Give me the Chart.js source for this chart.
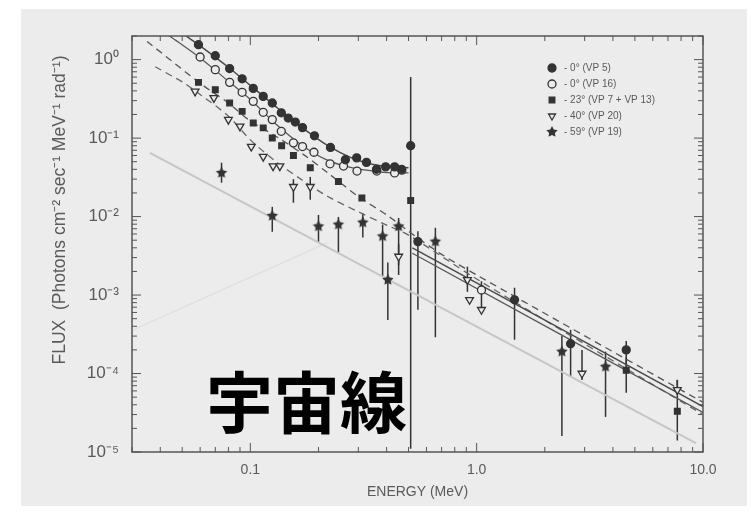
<!DOCTYPE html>
<html>
<head>
<meta charset="utf-8">
<script src="https://cdn.jsdelivr.net/npm/chart.js@4.4.1/dist/chart.umd.min.js"></script>
<style>
  html, body { margin: 0; padding: 0; background: #fff; }
  #wrap { position: relative; width: 751px; height: 524px; overflow: hidden; }
  #paper { position: absolute; left: 21px; top: 9px; width: 726px; height: 497px; background: #ececec; }
  #chart { position: absolute; left: 0; top: 0; }
  #stamp { position: absolute; left: 206px; top: 365px; font: bold 67px "Noto Sans CJK JP"; line-height: 67px; color: #000; white-space: nowrap; }
</style>
</head>
<body>
<div id="wrap">
  <div id="paper"></div>
  <canvas id="chart" width="751" height="524"></canvas>
  <div id="stamp">宇宙線</div>
</div>
<script>
// series names (legend)
const seriesNames = ['- 0° (VP 5)', '- 0° (VP 16)', '- 23° (VP 7 + VP 13)', '- 40° (VP 20)', '- 59° (VP 19)'];

// 0° (VP 5) - filled circles
const vp5E  = [0.059, 0.070, 0.081, 0.092, 0.103, 0.114, 0.125, 0.137, 0.147, 0.158, 0.170, 0.192, 0.226, 0.263, 0.295, 0.326, 0.361, 0.396, 0.434, 0.466, 0.511, 0.55, 1.47, 2.60, 4.58];
const vp5F  = [1.55, 1.12, 0.77, 0.57, 0.43, 0.34, 0.28, 0.21, 0.18, 0.16, 0.136, 0.107, 0.076, 0.053, 0.056, 0.049, 0.040, 0.043, 0.043, 0.040, 0.08, 4.8e-3, 8.7e-4, 2.4e-4, 2.0e-4];
const vp5Lo = [null, null, null, null, null, null, null, null, null, null, null, null, null, null, null, null, null, null, null, null, 1.1e-5, 6.5e-4, 2.7e-4, 9.1e-5, 1.1e-4];
const vp5Hi = [null, null, null, null, null, null, null, null, null, null, null, null, null, null, null, null, null, null, null, null, 0.6, 6.5e-3, 1.24e-3, 3.6e-4, 2.6e-4];

// 0° (VP 16) - open circles
const vp16E  = [0.060, 0.070, 0.081, 0.092, 0.103, 0.114, 0.125, 0.137, 0.155, 0.170, 0.191, 0.225, 0.258, 0.296, 0.362, 0.434, 0.467, 1.05];
const vp16F  = [1.08, 0.745, 0.513, 0.383, 0.294, 0.213, 0.172, 0.122, 0.087, 0.078, 0.066, 0.047, 0.044, 0.038, 0.038, 0.036, 0.039, 1.16e-3];
const vp16Lo = [null, null, null, null, null, null, null, null, null, null, null, null, null, null, null, null, null, 7.0e-4];
const vp16Hi = [null, null, null, null, null, null, null, null, null, null, null, null, null, null, null, null, null, 1.5e-3];

// 23° (VP 7 + VP 13) - filled squares
const vp7E  = [0.059, 0.070, 0.081, 0.092, 0.103, 0.114, 0.125, 0.1375, 0.155, 0.184, 0.245, 0.311, 0.511, 4.58, 7.7];
const vp7F  = [0.513, 0.414, 0.280, 0.219, 0.156, 0.135, 0.100, 0.080, 0.060, 0.042, 0.028, 0.0172, 0.016, 1.1e-4, 3.3e-5];
const vp7Lo = [null, null, null, null, null, null, null, null, null, null, null, null, null, 5.7e-5, 1.4e-5];
const vp7Hi = [null, null, null, null, null, null, null, null, null, null, null, null, null, 1.6e-4, 8.3e-5];

// 40° (VP 20) - open down triangles
const vp20E  = [0.057, 0.069, 0.080, 0.090, 0.101, 0.114, 0.126, 0.135, 0.155, 0.184, 0.452, 0.91, 0.93, 1.05, 2.92, 7.7];
const vp20F  = [0.394, 0.325, 0.172, 0.141, 0.078, 0.058, 0.044, 0.044, 0.024, 0.024, 3.1e-3, 1.56e-3, 8.7e-4, 6.5e-4, 1.0e-4, 6.2e-5];
const vp20Lo = [null, null, null, null, null, null, null, null, 0.015, 0.0164, 1.8e-3, 1.1e-3, null, null, 8.3e-5, 5.5e-5];
const vp20Hi = [null, null, null, null, null, null, null, null, 0.030, 0.032, 4.5e-3, 2.3e-3, null, null, 2.0e-4, 8.3e-5];

// 59° (VP 19) - filled stars
const vp19E  = [0.0746, 0.125, 0.2, 0.245, 0.314, 0.384, 0.405, 0.452, 0.657, 2.38, 3.71];
const vp19F  = [0.036, 0.0102, 0.0075, 0.0079, 0.0084, 0.0056, 0.00156, 0.0075, 4.8e-3, 1.9e-4, 1.22e-4];
const vp19Lo = [0.027, 0.0064, 0.0046, 0.0035, 0.0054, 0.0017, 0.00048, 0.0024, 2.9e-4, 1.6e-5, 2.8e-5];
const vp19Hi = [0.0486, 0.0133, 0.0105, 0.0099, 0.011, 0.0079, 0.0026, 0.0096, 7.2e-3, 3.0e-4, 1.9e-4];

// fitted curves
const fit5E  = [0.052, 0.06, 0.08, 0.1, 0.13, 0.17, 0.22, 0.28, 0.35, 0.42, 0.5];
const fit5F  = [2.0, 1.5, 0.80, 0.47, 0.25, 0.135, 0.080, 0.056, 0.046, 0.043, 0.042];
const fit5bE = [0.52, 10];
const fit5bF = [4.0e-3, 3.8e-5];
const fit16E  = [0.044, 0.06, 0.08, 0.1, 0.13, 0.17, 0.22, 0.28, 0.35, 0.42, 0.5];
const fit16F  = [2.0, 1.05, 0.53, 0.31, 0.15, 0.08, 0.052, 0.042, 0.038, 0.036, 0.036];
const fit16bE = [0.52, 10];
const fit16bF = [3.4e-3, 3.2e-5];
const fit7E = [0.035, 0.06, 0.08, 0.1, 0.13, 0.17, 0.22, 0.3, 0.4, 0.5, 0.7, 1, 10];
const fit7F = [1.7, 0.50, 0.28, 0.165, 0.105, 0.063, 0.036, 0.018, 0.0105, 0.0065, 0.0033, 0.0018, 4.3e-5];
const fit20E = [0.038, 0.05, 0.06, 0.08, 0.1, 0.13, 0.17, 0.22, 0.3, 0.4, 0.5, 1, 10];
const fit20F = [0.81, 0.52, 0.36, 0.19, 0.095, 0.05, 0.029, 0.018, 0.0115, 0.0078, 0.0058, 1.6e-3, 3.0e-5];
const bgLineE = [0.036, 9.3];
const bgLineF = [0.065, 1.3e-5];
const faintLineE = [0.0303, 0.221];
const faintLineF = [3.6e-4, 4.7e-3];

// axis ticks
const xTicks = [0.03, 0.04, 0.05, 0.06, 0.07, 0.08, 0.09, 0.1, 0.2, 0.3, 0.4, 0.5, 0.6, 0.7, 0.8, 0.9, 1, 2, 3, 4, 5, 6, 7, 8, 9, 10];
const xLabelValues = [0.1, 1, 10];
const xLabelText = ['0.1', '1.0', '10.0'];
const yTicks = [1e-5, 2e-5, 3e-5, 4e-5, 5e-5, 6e-5, 7e-5, 8e-5, 9e-5,
                1e-4, 2e-4, 3e-4, 4e-4, 5e-4, 6e-4, 7e-4, 8e-4, 9e-4,
                1e-3, 2e-3, 3e-3, 4e-3, 5e-3, 6e-3, 7e-3, 8e-3, 9e-3,
                1e-2, 2e-2, 3e-2, 4e-2, 5e-2, 6e-2, 7e-2, 8e-2, 9e-2,
                0.1, 0.2, 0.3, 0.4, 0.5, 0.6, 0.7, 0.8, 0.9, 1, 2];
const yLabelValues = [1e-5, 1e-4, 1e-3, 1e-2, 1e-1, 1];
const yLabelText = ['10⁻⁵', '10⁻⁴', '10⁻³', '10⁻²', '10⁻¹', '10⁰'];

const yTitle = 'FLUX  (Photons cm⁻² sec⁻¹ MeV⁻¹ rad⁻¹)';
const xTitle = 'ENERGY (MeV)';

const INK = '#333';
const PAPER = '#ececec';
const LABEL = '#5a5a5a';

// filled star marker
function makeStar(r) {
    const c = document.createElement('canvas');
    c.width = c.height = r * 2 + 2;
    const g = c.getContext('2d');
    g.fillStyle = INK;
    g.beginPath();
    for (let i = 0; i < 10; i++) {
        const a = -Math.PI / 2 + i * Math.PI / 5;
        const rr = i % 2 === 0 ? r : r * 0.5;
        g.lineTo(r + 1 + rr * Math.cos(a), r + 1 + rr * Math.sin(a));
    }
    g.closePath();
    g.fill();
    return c;
}
const starImg = makeStar(6);

function pts(xs, ys) {
    return xs.map((x, i) => ({ x, y: ys[i] }));
}

function series(label, xs, ys, lo, hi, style) {
    return Object.assign({
        label, data: pts(xs, ys), errLow: lo, errHigh: hi, isSeries: true,
        showLine: false, pointRadius: 4, borderColor: INK, backgroundColor: INK, borderWidth: 1.3
    }, style);
}

function curve(xs, ys, style) {
    return Object.assign({
        data: pts(xs, ys), showLine: true, pointRadius: 0, borderColor: '#4a4a4a',
        borderWidth: 1.5, tension: 0.3, fill: false
    }, style);
}

const datasets = [
    series(seriesNames[0], vp5E, vp5F, vp5Lo, vp5Hi, { pointStyle: 'circle' }),
    series(seriesNames[1], vp16E, vp16F, vp16Lo, vp16Hi, { pointStyle: 'circle', backgroundColor: PAPER }),
    series(seriesNames[2], vp7E, vp7F, vp7Lo, vp7Hi, { pointStyle: 'rect', pointRadius: 4 }),
    series(seriesNames[3], vp20E, vp20F, vp20Lo, vp20Hi, { pointStyle: 'triangle', rotation: 180, backgroundColor: PAPER, pointRadius: 4.5 }),
    series(seriesNames[4], vp19E, vp19F, vp19Lo, vp19Hi, { pointStyle: starImg }),
    curve(fit5E, fit5F, {}),
    curve(fit5bE, fit5bF, {}),
    curve(fit16E, fit16F, { borderColor: '#555', borderWidth: 1.2 }),
    curve(fit16bE, fit16bF, { borderColor: '#555', borderWidth: 1.2 }),
    curve(fit7E, fit7F, { borderDash: [7, 5], borderColor: '#555', borderWidth: 1.3 }),
    curve(fit20E, fit20F, { borderDash: [7, 5], borderColor: '#666', borderWidth: 1.3 }),
    curve(bgLineE, bgLineF, { borderColor: '#c6c6c6', borderWidth: 2, tension: 0 }),
    curve(faintLineE, faintLineF, { borderColor: '#e0e0e0', borderWidth: 1.5, tension: 0 })
];

// error bars from each series' low/high arrays
const errorBars = {
    id: 'errorBars',
    beforeDatasetsDraw(chart) {
        const { ctx, scales: { x, y } } = chart;
        ctx.save();
        ctx.strokeStyle = INK;
        ctx.lineWidth = 1.5;
        chart.data.datasets.forEach(ds => {
            if (!ds.errLow) return;
            ds.data.forEach((p, i) => {
                const lo = ds.errLow[i], hi = ds.errHigh[i];
                if (lo == null) return;
                const px = x.getPixelForValue(p.x);
                ctx.beginPath();
                ctx.moveTo(px, y.getPixelForValue(hi));
                ctx.lineTo(px, y.getPixelForValue(lo));
                ctx.stroke();
            });
        });
        ctx.restore();
    }
};

// frame with inward ticks on all four sides, y title and legend
const frame = {
    id: 'frame',
    beforeDatasetsDraw(chart) {
        const { ctx, chartArea: { left, right, top, bottom }, scales: { x, y } } = chart;
        ctx.save();
        ctx.strokeStyle = '#555';
        ctx.lineWidth = 1.5;
        ctx.strokeRect(left, top, right - left, bottom - top);
        ctx.lineWidth = 1;
        x.ticks.forEach(t => {
            const px = x.getPixelForValue(t.value);
            const len = xLabelValues.includes(t.value) ? 9 : 5;
            ctx.beginPath();
            ctx.moveTo(px, bottom); ctx.lineTo(px, bottom - len);
            ctx.moveTo(px, top); ctx.lineTo(px, top + len);
            ctx.stroke();
        });
        y.ticks.forEach(t => {
            const py = y.getPixelForValue(t.value);
            const len = yLabelValues.includes(t.value) ? 9 : 5;
            ctx.beginPath();
            ctx.moveTo(left, py); ctx.lineTo(left + len, py);
            ctx.moveTo(right, py); ctx.lineTo(right - len, py);
            ctx.stroke();
        });
        ctx.restore();
    },
    afterDraw(chart) {
        const { ctx } = chart;
        // y axis title
        ctx.save();
        ctx.fillStyle = LABEL;
        ctx.font = '17.5px "Liberation Sans", Arial, sans-serif';
        ctx.translate(60, 210);
        ctx.rotate(-Math.PI / 2);
        ctx.textAlign = 'center';
        ctx.textBaseline = 'middle';
        ctx.fillText(yTitle, 0, 0);
        ctx.restore();
        // legend inside the plot
        ctx.save();
        ctx.font = '10px "Liberation Sans", Arial, sans-serif';
        ctx.textBaseline = 'middle';
        chart.data.datasets.filter(ds => ds.isSeries).forEach((ds, i) => {
            const ly = 68 + i * 16;
            ctx.fillStyle = ds.backgroundColor;
            ctx.strokeStyle = ds.borderColor;
            ctx.lineWidth = ds.borderWidth;
            Chart.helpers.drawPoint(ctx, { pointStyle: ds.pointStyle, radius: 4, rotation: ds.rotation || 0, borderWidth: ds.borderWidth }, 552, ly);
            ctx.fillStyle = LABEL;
            ctx.fillText(ds.label, 564, ly);
        });
        ctx.restore();
    }
};

new Chart(document.getElementById('chart'), {
    type: 'scatter',
    data: { datasets },
    options: {
        responsive: false,
        animation: false,
        layout: { padding: { left: 0, top: 36, right: 48, bottom: 0 } },
        plugins: { legend: { display: false }, tooltip: { enabled: false } },
        scales: {
            x: {
                type: 'logarithmic',
                min: 0.03,
                max: 10,
                afterBuildTicks: scale => { scale.ticks = xTicks.map(v => ({ value: v })); },
                afterFit: scale => { scale.height = 72; },
                grid: { display: false, drawTicks: false },
                border: { display: false },
                ticks: {
                    autoSkip: false,
                    maxRotation: 0,
                    padding: 10,
                    color: LABEL,
                    font: { family: '"Liberation Sans", Arial, sans-serif', size: 14 },
                    callback: v => {
                        const i = xLabelValues.indexOf(v);
                        return i >= 0 ? xLabelText[i] : '';
                    }
                },
                title: {
                    display: true,
                    text: xTitle,
                    color: LABEL,
                    font: { family: '"Liberation Sans", Arial, sans-serif', size: 14 },
                    padding: { top: 0, bottom: 23 }
                }
            },
            y: {
                type: 'logarithmic',
                min: 1e-5,
                max: 2,
                afterBuildTicks: scale => { scale.ticks = yTicks.map(v => ({ value: v })); },
                afterFit: scale => { scale.width = 132; },
                grid: { display: false, drawTicks: false },
                border: { display: false },
                ticks: {
                    autoSkip: false,
                    padding: 13,
                    color: LABEL,
                    font: { family: '"Liberation Sans", Arial, sans-serif', size: 17 },
                    callback: v => {
                        const i = yLabelValues.indexOf(v);
                        return i >= 0 ? yLabelText[i] : '';
                    }
                }
            }
        }
    },
    plugins: [errorBars, frame]
});
</script>
</body>
</html>
